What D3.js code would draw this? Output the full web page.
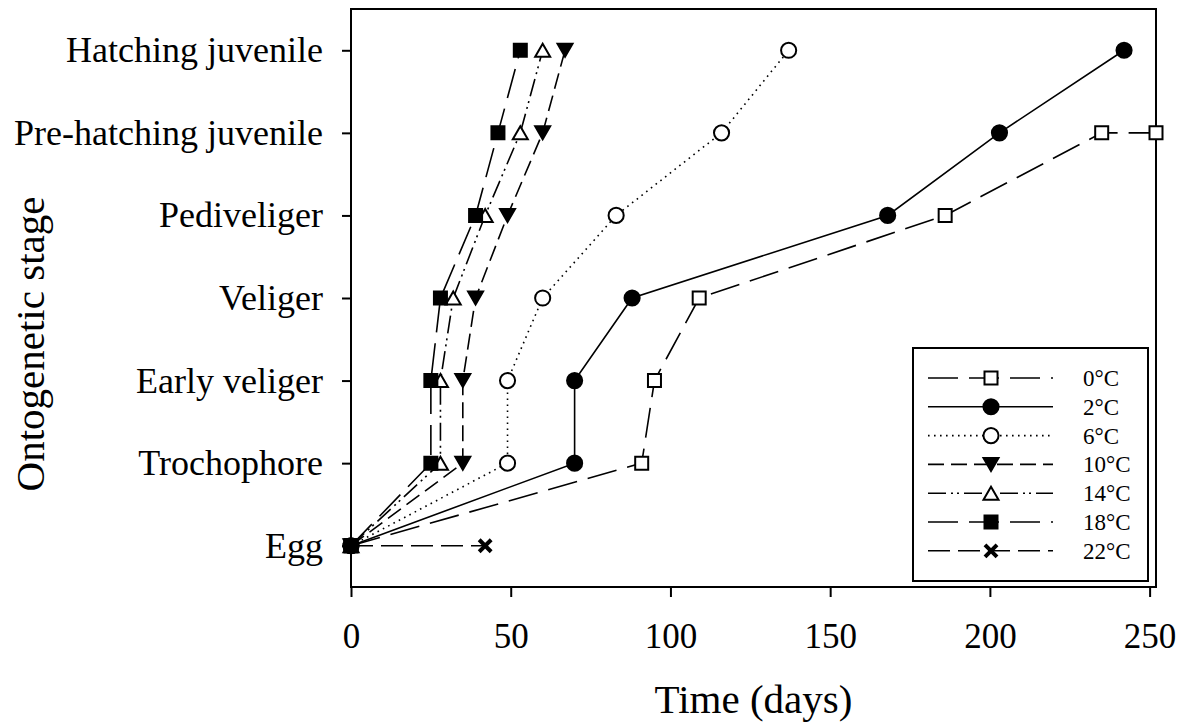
<!DOCTYPE html>
<html>
<head>
<meta charset="utf-8">
<script src="https://cdn.jsdelivr.net/npm/d3@7"></script>
<style>
  body { margin: 0; background: #fff; }
  svg { font-family: 'Liberation Serif', 'Times New Roman', serif; }
</style>
</head>
<body>
<svg width="1187" height="728"></svg>
<script>
WIDTH = 1187;
HEIGHT = 728;

const STAGES = ['Egg', 'Trochophore', 'Early veliger', 'Veliger', 'Pediveliger',
  'Pre-hatching juvenile', 'Hatching juvenile'];
const TEMPS = ['0°C', '2°C', '6°C', '10°C', '14°C', '18°C', '22°C'];
const X_TICKS = [0, 50, 100, 150, 200, 250];

// days at which each stage was reached, per temperature
const DAYS_0 = [0, 91, 95, 109, 186, 235, 252];
const STAGE_0 = [0, 1, 2, 3, 4, 5, 5];
const DAYS_2 = [0, 70, 70, 88, 168, 203, 242];
const STAGE_2 = [0, 1, 2, 3, 4, 5, 6];
const DAYS_6 = [0, 49, 49, 60, 83, 116, 137];
const STAGE_6 = [0, 1, 2, 3, 4, 5, 6];
const DAYS_10 = [0, 35, 35, 39, 49, 60, 67];
const STAGE_10 = [0, 1, 2, 3, 4, 5, 6];
const DAYS_14 = [0, 28, 28, 32, 42, 53, 60];
const STAGE_14 = [0, 1, 2, 3, 4, 5, 6];
const DAYS_18 = [0, 25, 25, 28, 39, 46, 53];
const STAGE_18 = [0, 1, 2, 3, 4, 5, 6];
const DAYS_22 = [0, 42];
const STAGE_22 = [0, 0];

const series = [
  {name: TEMPS[0], days: DAYS_0, stages: STAGE_0, dash: '30,11', marker: 'square', fill: '#fff'},
  {name: TEMPS[1], days: DAYS_2, stages: STAGE_2, dash: null, marker: 'circle', fill: '#000'},
  {name: TEMPS[2], days: DAYS_6, stages: STAGE_6, dash: '1.6,4.4', marker: 'circle', fill: '#fff'},
  {name: TEMPS[3], days: DAYS_10, stages: STAGE_10, dash: '16,7', marker: 'down', fill: '#000'},
  {name: TEMPS[4], days: DAYS_14, stages: STAGE_14, dash: '18,5,2,4,2,5', marker: 'up', fill: '#fff'},
  {name: TEMPS[5], days: DAYS_18, stages: STAGE_18, dash: '30,11', marker: 'square', fill: '#000'},
  {name: TEMPS[6], days: DAYS_22, stages: STAGE_22, dash: '22,8', marker: 'cross', fill: '#000'},
];

function markerPath(type) {
  if (type === 'square') return d3.symbol(d3.symbolSquare, 169)();
  if (type === 'circle') return d3.symbol(d3.symbolCircle, 180)();
  if (type === 'up' || type === 'down') {
    const h = 6.5, w = 7.5;
    const s = type === 'up' ? 1 : -1;
    return `M0,${-s * h}L${w},${s * h}L${-w},${s * h}Z`;
  }
  return 'M-6,-6L6,6M-6,6L6,-6';
}

function drawMarker(g, type, fill, x, y) {
  const p = g.append('path')
    .attr('d', markerPath(type))
    .attr('transform', `translate(${x}, ${y})`)
    .attr('stroke', '#000');
  if (type === 'cross') {
    p.attr('fill', 'none').attr('stroke-width', 4);
  } else {
    p.attr('fill', fill).attr('stroke-width', 2);
  }
}

function drawChart() {
  const margin = {top: 9, right: 31, bottom: 141, left: 351};
  const width = WIDTH - margin.left - margin.right;
  const height = HEIGHT - margin.top - margin.bottom;

  const x = d3.scaleLinear().domain([0, 252]).range([0, width]);
  const y = d3.scaleLinear().domain([-0.5, 6.5]).range([height, 0]);

  const svg = d3.select('svg');
  const g = svg.append('g')
    .attr('transform', `translate(${margin.left}, ${margin.top})`);

  const xAxis = g.append('g')
    .attr('transform', `translate(0, ${height})`)
    .call(d3.axisBottom(x).tickValues(X_TICKS).tickSize(10).tickPadding(26))
    .attr('font-family', null)
    .attr('font-size', 35);
  xAxis.select('.domain').remove();
  xAxis.selectAll('line').attr('stroke-width', 2);

  const yAxis = g.append('g')
    .call(d3.axisLeft(y).tickValues(d3.range(STAGES.length))
      .tickFormat((i) => STAGES[i]).tickSize(9).tickPadding(19))
    .attr('font-family', null)
    .attr('font-size', 36);
  yAxis.select('.domain').remove();
  yAxis.selectAll('line').attr('stroke-width', 2);

  g.append('rect')
    .attr('width', width)
    .attr('height', height)
    .attr('fill', 'none')
    .attr('stroke', '#000')
    .attr('stroke-width', 2);

  g.append('text')
    .attr('x', width / 2)
    .attr('y', height + 126)
    .attr('text-anchor', 'middle')
    .attr('font-size', 41)
    .text('Time (days)');

  svg.append('text')
    .attr('transform', 'translate(44, 344) rotate(-90)')
    .attr('text-anchor', 'middle')
    .attr('font-size', 41)
    .text('Ontogenetic stage');

  const line = d3.line()
    .x((d) => x(d[0]))
    .y((d) => y(d[1]));

  series.forEach((s) => {
    const pts = s.days.map((d, i) => [d, s.stages[i]]);
    g.append('path')
      .datum(pts)
      .attr('fill', 'none')
      .attr('stroke', '#000')
      .attr('stroke-width', 1.6)
      .attr('stroke-dasharray', s.dash)
      .attr('d', line);
    pts.forEach((p) => drawMarker(g, s.marker, s.fill, x(p[0]), y(p[1])));
  });

  // legend
  const lg = svg.append('g').attr('transform', 'translate(913, 348)');
  lg.append('rect')
    .attr('width', 235)
    .attr('height', 233)
    .attr('fill', '#fff')
    .attr('stroke', '#000')
    .attr('stroke-width', 2);

  series.forEach((s, i) => {
    const ly = 30 + i * 28.8;
    lg.append('line')
      .attr('x1', 15)
      .attr('x2', 140)
      .attr('y1', ly)
      .attr('y2', ly)
      .attr('stroke', '#000')
      .attr('stroke-width', 1.6)
      .attr('stroke-dasharray', s.dash);
    drawMarker(lg, s.marker, s.fill, 78, ly);
    lg.append('text')
      .attr('x', 170)
      .attr('y', ly)
      .attr('dy', '0.35em')
      .attr('font-size', 23)
      .text(s.name);
  });
}

drawChart();
</script>
</body>
</html>
